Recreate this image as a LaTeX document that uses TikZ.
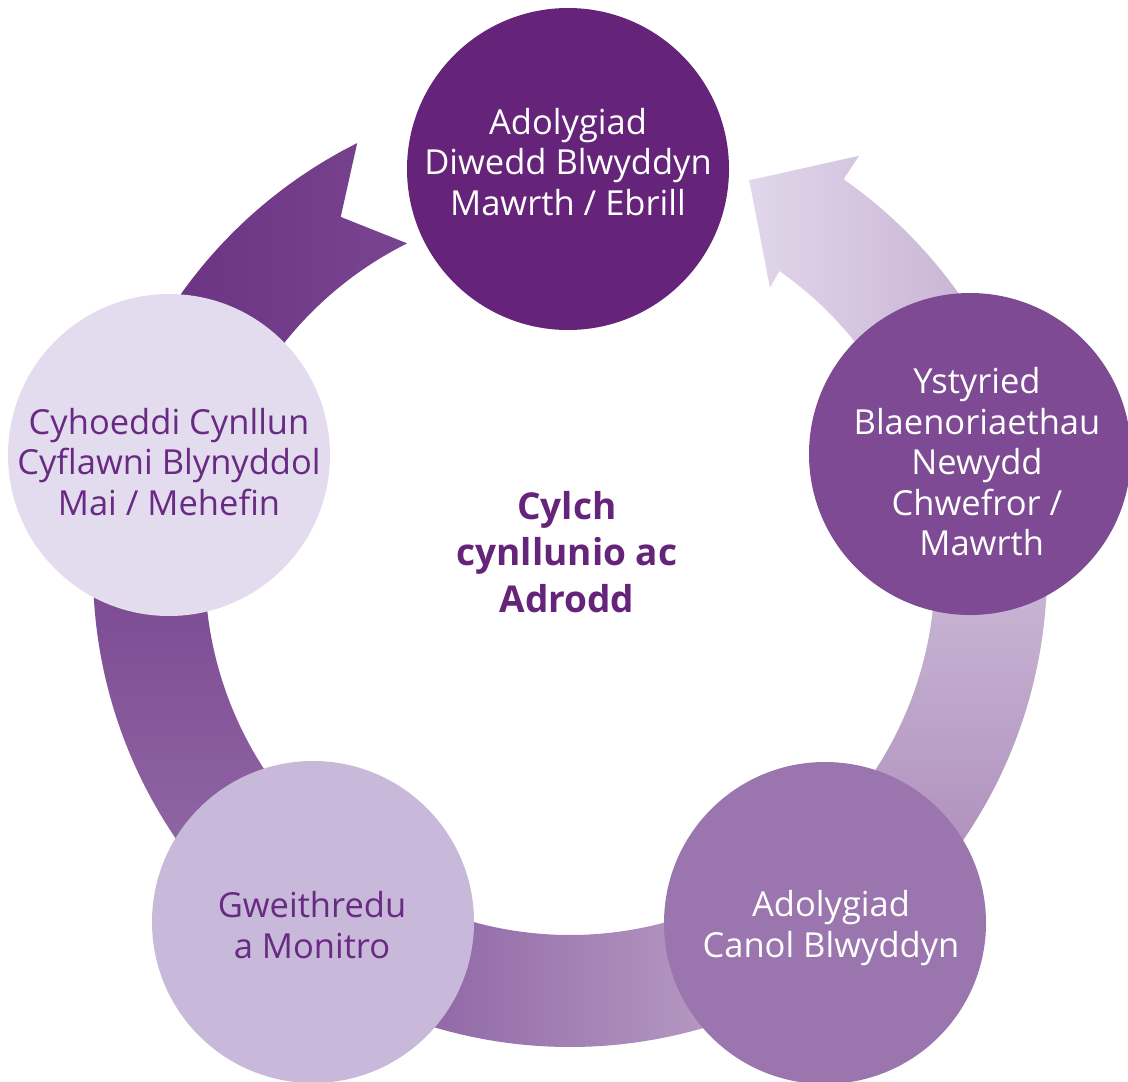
\documentclass[tikz,border=0pt]{standalone}
\usepackage{fontspec}
\setmainfont{Open Sans}
\definecolor{ctop}{HTML}{652479}
\definecolor{cright}{HTML}{7D4A93}
\definecolor{cbr}{HTML}{9A75AE}
\definecolor{cbl}{HTML}{C8B8DA}
\definecolor{cleft}{HTML}{E3DCEE}
\definecolor{ctext}{HTML}{682A82}
\definecolor{sA1}{HTML}{6B3383}
\definecolor{sA2}{HTML}{79448F}
\definecolor{sB1}{HTML}{7A4891}
\definecolor{sB2}{HTML}{9268A5}
\definecolor{sC1}{HTML}{8B62A3}
\definecolor{sC2}{HTML}{BB9EC5}
\definecolor{sD1}{HTML}{CBB9D7}
\definecolor{sD2}{HTML}{AE8EBB}
\definecolor{sE1}{HTML}{E1D6EA}
\definecolor{sE2}{HTML}{C7B3D3}
\begin{document}
\begin{tikzpicture}[x=1pt,y=1pt,
  circ/.style={circle, minimum size=322pt, inner sep=0pt, draw=none},
  lbl/.style={align=center, inner sep=0pt, font=\fontsize{34.5}{40.5}\selectfont},
  mid/.style={align=center, inner sep=0pt, text=ctop, font=\fontsize{37}{46.5}\selectfont\bfseries}]
\useasboundingbox (0,0) rectangle (1128,-1082);
% circular arrow, drawn as five shaded pieces
\begin{scope}[shift={(570,-570)}]
  \shade[left color=sA1, right color=sA2]
    (116.5:477) arc[start angle=116.5, end angle=150, radius=477]
    -- (150:365) arc[start angle=150, end angle=116.5, radius=365]
    -- (123:421) -- cycle;
  \shade[top color=sB1, bottom color=sB2]
    (178:477) arc[start angle=178, end angle=220, radius=477]
    -- (220:365) arc[start angle=220, end angle=178, radius=365] -- cycle;
  \shade[left color=sC1, right color=sC2]
    (248:477) arc[start angle=248, end angle=292, radius=477]
    -- (292:365) arc[start angle=292, end angle=248, radius=365] -- cycle;
  \shade[top color=sD1, bottom color=sD2]
    (320:477) arc[start angle=320, end angle=362, radius=477]
    -- (362:365) arc[start angle=362, end angle=320, radius=365] -- cycle;
  \shade[left color=sE1, right color=sE2]
    (30:365) arc[start angle=30, end angle=55, radius=365]
    -- (54.7:346) -- (65.3:429) -- (55.1:505) -- (55:477)
    arc[start angle=55, end angle=30, radius=477] -- cycle;
\end{scope}
% circles
\node[circ, fill=ctop]   (top)   at (568,-169) {};
\node[circ, fill=cleft]  (left)  at (169,-455) {};
\node[circ, fill=cright] (right) at (970,-454) {};
\node[circ, fill=cbr]    (br)    at (825,-923) {};
\node[circ, fill=cbl]    (bl)    at (313,-922) {};
% texts
\node[lbl, text=white] (ttop) at (568,-162) {Adolygiad\\Diwedd Blwyddyn\\Mawrth / Ebrill};
\node[lbl, text=white] (tright) at (977,-462) {Ystyried\\Blaenoriaethau\\Newydd\\Chwefror /\\\hspace*{0.27em}Mawrth};
\node[lbl, text=white] (tbr) at (831,-928) {Adolygiad\\Canol Blwyddyn};
\node[lbl, text=ctext] (tbl) at (312,-925) {Gweithredu\\a Monitro};
\node[lbl, text=ctext] (tleft) at (169,-462) {Cyhoeddi Cynllun\\Cyflawni Blynyddol\\Mai / Mehefin};
\node[mid] (tmid) at (567,-552) {Cylch\\cynllunio ac\\Adrodd};
\end{tikzpicture}
\end{document}
